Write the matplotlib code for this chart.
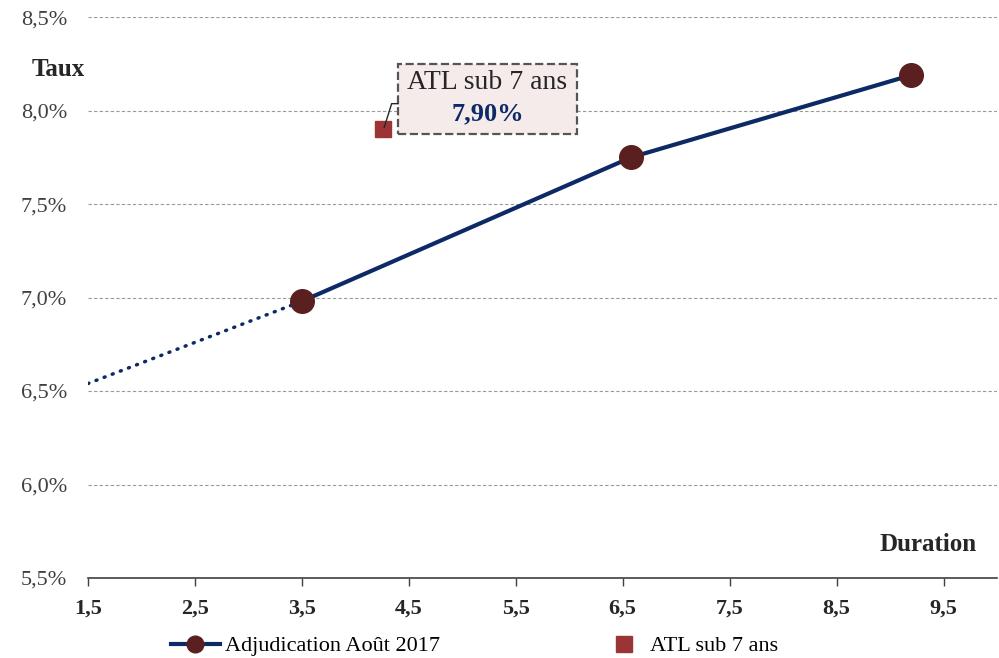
import matplotlib.pyplot as plt
from matplotlib.lines import Line2D
from matplotlib.patches import Rectangle
from matplotlib.ticker import FuncFormatter

plt.rcParams['font.family'] = ['Liberation Serif', 'DejaVu Serif']

# courbe de l'adjudication
duration = [3.5, 6.58, 9.2]
taux = [6.98, 7.75, 8.19]
# extrapolation pointillée
extra_x = [1.5, 3.5]
extra_y = [6.54, 6.98]
# point ATL
atl_x = [4.26]
atl_y = [7.90]
atl_label = 'ATL sub 7 ans'

xticks = [1.5, 2.5, 3.5, 4.5, 5.5, 6.5, 7.5, 8.5, 9.5]
yticks = [5.5, 6.0, 6.5, 7.0, 7.5, 8.0, 8.5]

navy = '#0d2a66'
maroon = '#5a1f1f'
red = '#9b3535'
dark = '#262626'

fig = plt.figure(figsize=(9.99, 6.58), dpi=100)
ax = fig.add_axes([0.088, 0.1216, 0.91, 0.8524])

ax.plot(extra_x, extra_y, color=navy, lw=2.5, ls=(0, (0.3, 2.2)),
        dash_capstyle='round', zorder=2)
ax.plot(duration, taux, color=navy, lw=3, marker='o', ms=17,
        markerfacecolor=maroon, markeredgecolor=maroon, zorder=3)
ax.plot(atl_x, atl_y, ls='none', marker='s', ms=11.5, color=red, zorder=3)

ax.set_xlim(1.5, 10.0)
ax.set_ylim(5.5, 8.5)
ax.set_xticks(xticks)
ax.set_yticks(yticks)
ax.xaxis.set_major_formatter(FuncFormatter(lambda v, p: f'{v:.1f}'.replace('.', ',')))
ax.yaxis.set_major_formatter(FuncFormatter(lambda v, p: f'{v:.1f}%'.replace('.', ',')))
ax.grid(axis='y', color='#999999', ls=(0, (3, 2)), lw=0.8)
ax.set_axisbelow(True)

for s in ['top', 'right', 'left']:
    ax.spines[s].set_visible(False)
ax.spines['bottom'].set_color('#404040')
ax.spines['bottom'].set_linewidth(1.2)
ax.tick_params(axis='y', length=0, pad=15, labelsize=16, labelcolor='#404040')
ax.tick_params(axis='x', length=6, width=1, color='#404040', pad=9,
               labelsize=16, labelcolor=dark)
for lab in ax.get_xticklabels():
    lab.set_fontweight('bold')

fig.text(0.058, 0.894, 'Taux', fontsize=18, fontweight='bold', color=dark,
         ha='center', va='center')
fig.text(0.978, 0.172, 'Duration', fontsize=18, fontweight='bold', color=dark,
         ha='right', va='center')

# étiquette de l'ATL
ax.add_patch(Rectangle((4.40, 7.877), 1.67, 0.374, fc='#f6ebeb', ec='#555555',
                       ls='--', lw=1.6, zorder=4))
ax.plot([atl_x[0] + 0.01, 4.34, 4.40], [atl_y[0] + 0.01, 8.037, 8.037],
        color=dark, lw=1, zorder=4)
ax.text(5.235, 8.15, atl_label, fontsize=20, color=dark,
        ha='center', va='center', zorder=5)
ax.text(5.235, 7.984, f'{atl_y[0]:.2f}%'.replace('.', ','), fontsize=19,
        fontweight='bold', color=navy, ha='center', va='center', zorder=5)

h1 = Line2D([], [], color=navy, lw=3, marker='o', ms=12,
            markerfacecolor=maroon, markeredgecolor=maroon)
h2 = Line2D([], [], ls='none', marker='s', ms=11.5, color=red)
leg1 = fig.legend([h1], ['Adjudication Août 2017'], loc='center left',
                  bbox_to_anchor=(171 / 999, 1 - 646 / 658), frameon=False,
                  fontsize=16, handlelength=2.2, handletextpad=0.22,
                  borderpad=0, borderaxespad=0)
fig.legend([h2], [atl_label], loc='center left',
           bbox_to_anchor=(615 / 999, 1 - 646 / 658), frameon=False,
           fontsize=16, handlelength=0.8, handletextpad=0.77,
           borderpad=0, borderaxespad=0)

fig.savefig('out.png', dpi=100)
